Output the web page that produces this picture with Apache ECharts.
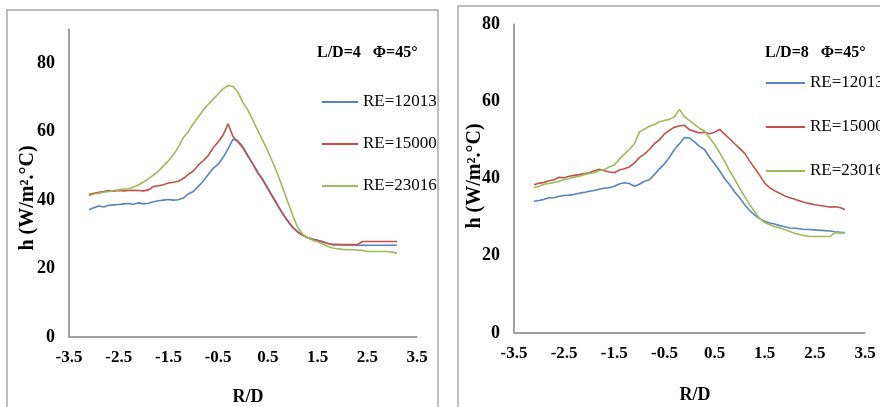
<!DOCTYPE html>
<html><head><meta charset="utf-8">
<script src="https://cdn.jsdelivr.net/npm/echarts@6/dist/echarts.min.js"></script>
<style>html,body{margin:0;padding:0;background:#fff}#c{width:880px;height:407px}</style>
</head><body><div id="c"></div>
<script>
// R/D positions (shared by both panels)
const rd = [-3.1,-3.0,-2.9,-2.8,-2.7,-2.6,-2.5,-2.4,-2.3,-2.2,-2.1,-2.0,
  -1.9,-1.8,-1.7,-1.6,-1.5,-1.4,-1.3,-1.2,-1.1,-1.0,
  -0.9,-0.8,-0.7,-0.6,-0.5,-0.4,-0.3,-0.2,-0.1,0.0,
  0.1,0.2,0.3,0.4,0.5,0.6,0.7,0.8,0.9,1.0,
  1.1,1.2,1.3,1.4,1.5,1.6,1.7,1.8,1.9,2.0,
  2.1,2.2,2.3,2.4,2.5,2.6,2.7,2.8,2.9,3.0,3.1];

const seriesNames = ['RE=12013','RE=15000','RE=23016'];
const panelTitles = ['L/D=4   \u03A6=45\u00B0','L/D=8   \u03A6=45\u00B0'];
const yTitle = 'h (W/m\u00B2.\u00B0C)';
const xTitle = 'R/D';

// Panel 1: L/D = 4
const ld4_re12013 = [37.2,37.8,38.3,38.0,38.5,38.6,38.7,38.9,39.0,38.8,39.2,38.9,
  39.1,39.5,39.8,40.0,40.2,40.0,40.1,40.6,41.8,42.5,
  44.0,45.5,47.5,49.3,50.5,52.5,55.0,57.8,57.3,55.5,
  53.0,50.5,48.0,46.0,43.5,41.0,38.5,36.0,34.0,32.0,
  30.8,29.8,29.0,28.6,28.3,27.9,27.4,27.0,27.0,26.9,
  26.9,26.9,26.8,26.8,26.8,26.8,26.8,26.8,26.8,26.8,26.8];
const ld4_re15000 = [41.6,42.0,42.3,42.5,42.8,42.6,42.8,42.7,42.8,42.9,42.8,42.7,
  43.0,44.0,44.2,44.5,45.0,45.2,45.5,46.3,47.5,48.5,
  50.2,51.5,53.0,55.3,57.0,59.0,62.3,58.5,57.0,55.2,
  52.8,50.5,48.0,45.8,43.3,40.8,38.3,36.0,33.8,32.0,
  30.6,29.7,29.0,28.5,28.2,27.8,27.3,27.0,27.0,27.0,
  27.0,27.0,27.0,27.9,27.9,27.9,27.9,27.9,27.9,27.9,27.9];
const ld4_re23016 = [41.3,41.8,42.0,42.3,42.5,42.8,43.0,43.2,43.3,43.8,44.5,45.3,
  46.3,47.3,48.5,50.0,51.5,53.3,55.5,58.3,60.0,62.3,
  64.3,66.3,68.0,69.5,71.0,72.5,73.5,73.2,71.5,68.5,
  66.3,63.3,60.3,57.3,54.3,51.0,47.5,43.5,39.5,35.5,
  32.0,30.0,29.0,28.3,27.8,27.2,26.5,26.0,25.8,25.6,
  25.5,25.5,25.4,25.3,25.0,25.0,25.0,25.0,25.0,24.8,24.5];

// Panel 2: L/D = 8
const ld8_re12013 = [34.1,34.3,34.6,35.0,35.0,35.4,35.6,35.7,35.9,36.2,36.4,36.7,
  36.9,37.2,37.5,37.6,38.0,38.6,38.9,38.7,38.0,38.5,
  39.3,39.7,41.0,42.5,43.8,45.5,47.5,49.0,50.6,50.5,
  49.5,48.3,47.5,45.5,43.8,42.0,40.0,38.4,36.5,35.0,
  33.2,31.7,30.5,29.6,28.9,28.5,28.2,27.8,27.5,27.2,
  27.1,27.0,26.8,26.8,26.7,26.6,26.5,26.4,26.2,26.1,26.0];
const ld8_re15000 = [38.4,38.8,39.0,39.4,39.7,40.3,40.2,40.6,40.8,41.0,41.3,41.5,
  42.0,42.4,42.0,41.7,41.5,42.2,42.5,43.0,44.0,45.4,
  46.3,47.5,49.0,50.0,51.5,52.5,53.3,53.6,53.8,52.6,
  52.2,51.8,52.0,51.6,52.0,52.7,51.5,50.3,49.0,47.8,
  46.5,44.5,42.7,40.8,38.8,37.6,36.8,36.2,35.5,35.0,
  34.6,34.2,33.8,33.5,33.2,33.0,32.8,32.6,32.7,32.5,32.0];
const ld8_re23016 = [37.6,38.0,38.5,38.7,39.0,39.3,39.7,40.0,40.3,40.6,41.0,41.3,
  41.5,42.0,42.3,43.0,43.5,45.0,46.3,47.5,49.0,52.0,
  52.8,53.5,54.0,54.7,55.0,55.3,56.0,57.9,56.0,55.0,
  54.0,53.0,52.3,50.5,48.8,46.7,44.5,42.0,39.8,37.5,
  35.3,33.3,31.3,29.6,28.6,28.0,27.6,27.2,26.8,26.3,
  25.8,25.5,25.2,25.0,25.0,25.0,25.0,25.0,25.9,25.9,25.9];

const xTickLabels = ['-3.5','-2.5','-1.5','-0.5','0.5','1.5','2.5','3.5'];
const xMin = -3.5, xMax = 3.5;
const yMaxes = [90, 80];

const colors = ['#5a84bf','#c0504d','#9bbb59'];
const FONT = '"Liberation Serif", "Times New Roman", serif';
const AXIS_COLOR = '#9a9a9a';

const grids = [
  {left:69, top:29, width:348, height:308},
  {left:514, top:24, width:351, height:309}
];

const panels = [
  [ld4_re12013, ld4_re15000, ld4_re23016],
  [ld8_re12013, ld8_re15000, ld8_re23016]
];

function xAxisOpt(gi){
  return {
    type:'value', gridIndex:gi, min:xMin, max:xMax, interval:0.5,
    axisLine:{show:true, onZero:false, lineStyle:{color:AXIS_COLOR, width:1.5}},
    axisTick:{show:false}, splitLine:{show:false},
    axisLabel:{
      margin:12, color:'#000', fontFamily:FONT, fontWeight:'bold', fontSize:17,
      showMinLabel:true, showMaxLabel:true,
      formatter:function(v){ const s=(Math.round(v*10)/10).toFixed(1); return xTickLabels.indexOf(s)>=0 ? s : ''; }
    }
  };
}
function yAxisOpt(gi){
  return {
    type:'value', gridIndex:gi, min:0, max:yMaxes[gi], interval:20,
    axisLine:{show:true, onZero:false, lineStyle:{color:AXIS_COLOR, width:1.5}},
    axisTick:{show:false}, splitLine:{show:false},
    axisLabel:{margin:14, color:'#000', fontFamily:FONT, fontWeight:'bold', fontSize:18, showMaxLabel: gi===1}
  };
}

const series = [];
// Axis lines drawn through each grid's own scales (bottom edge at h=0, left edge at R/D=min)
[0,1].forEach(function(gi){
  series.push({
    type:'line', name:'axis-x-' + gi, xAxisIndex:gi, yAxisIndex:gi, symbol:'none', silent:true,
    clip:false, animation:false, z:1, tooltip:{show:false},
    lineStyle:{color:AXIS_COLOR, width:1.5},
    data:[[xMin, 0], [xMax, 0]]
  });
  series.push({
    type:'line', name:'axis-y-' + gi, xAxisIndex:gi, yAxisIndex:gi, symbol:'none', silent:true,
    clip:false, animation:false, z:1, tooltip:{show:false},
    lineStyle:{color:AXIS_COLOR, width:1.5},
    data:[[xMin, 0], [xMin, yMaxes[gi]]]
  });
});
panels.forEach(function(p, gi){
  p.forEach(function(arr, si){
    series.push({
      type:'line', name:seriesNames[si], xAxisIndex:gi, yAxisIndex:gi,
      symbol:'none', showSymbol:false, smooth:false, animation:false, z:3,
      lineStyle:{color:colors[si], width:1.6}, itemStyle:{color:colors[si]},
      data: rd.map(function(x,i){ return [x, arr[i]]; })
    });
  });
});

const legendBase = {
  orient:'vertical', icon:'rect', itemHeight:2, selectedMode:false, data:seriesNames,
  textStyle:{color:'#000', fontFamily:FONT, fontSize:17, lineHeight:20}
};

const chart = echarts.init(document.getElementById('c'), null, {renderer:'canvas'});
chart.setOption({
  animation:false,
  backgroundColor:'#fff',
  grid:grids,
  xAxis:[xAxisOpt(0), xAxisOpt(1)],
  yAxis:[yAxisOpt(0), yAxisOpt(1)],
  legend:[
    Object.assign({}, legendBase, {left:317, top:87, itemWidth:36, itemGap:22}),
    Object.assign({}, legendBase, {left:761, top:68, itemWidth:39, itemGap:24})
  ],
  graphic:{
    elements:[
      {type:'rect', z:-10, shape:{x:7, y:10, width:431, height:420}, style:{fill:'transparent', stroke:'#a8a8a8', lineWidth:1.5}, silent:true},
      {type:'rect', z:-10, shape:{x:458, y:6, width:440, height:420}, style:{fill:'transparent', stroke:'#a8a8a8', lineWidth:1.5}, silent:true},
      {type:'text', x:317, y:53, style:{text:panelTitles[0], font:'bold 16px ' + FONT, fill:'#000', verticalAlign:'middle'}},
      {type:'text', x:765, y:53, style:{text:panelTitles[1], font:'bold 16px ' + FONT, fill:'#000', verticalAlign:'middle'}},
      {type:'text', x:28, y:198, rotation:Math.PI/2, style:{text:yTitle, font:'bold 20px ' + FONT, fill:'#000', align:'center', verticalAlign:'middle'}},
      {type:'text', x:475, y:176, rotation:Math.PI/2, style:{text:yTitle, font:'bold 20px ' + FONT, fill:'#000', align:'center', verticalAlign:'middle'}},
      {type:'text', x:248, y:397, style:{text:xTitle, font:'bold 18px ' + FONT, fill:'#000', align:'center', verticalAlign:'middle'}},
      {type:'text', x:695, y:395, style:{text:xTitle, font:'bold 18px ' + FONT, fill:'#000', align:'center', verticalAlign:'middle'}}
    ]
  },
  series:series
});
</script>
</body></html>
